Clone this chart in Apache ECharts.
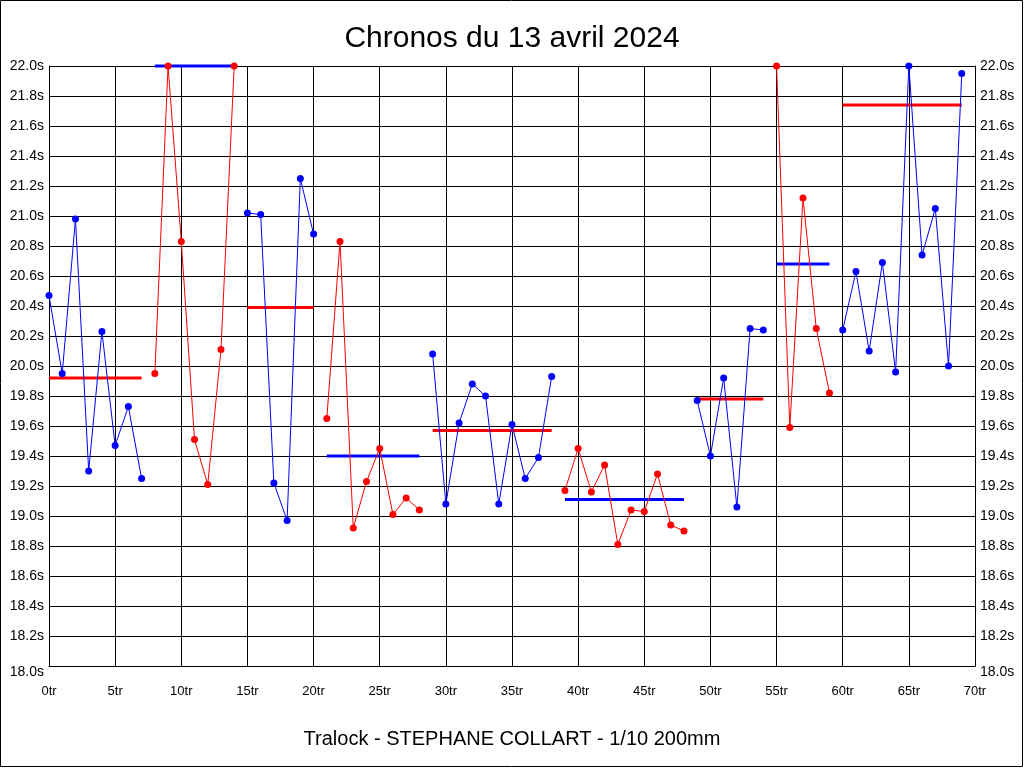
<!DOCTYPE html>
<html>
<head>
<meta charset="utf-8">
<script src="https://cdn.jsdelivr.net/npm/echarts@6/dist/echarts.min.js"></script>
<style>
html,body{margin:0;padding:0;background:#fff;}
#chart{width:1024px;height:768px;}
</style>
</head>
<body>
<div id="chart"></div>
<script>
// Lap index at which each run (segment) starts
const segStarts = [0, 8, 15, 21, 29, 39, 49, 55, 60];
// Lap times (s) for each run, as displayed
const seg1 = [20.47, 19.95, 20.98, 19.30, 20.23, 19.47, 19.73, 19.25];
const seg2 = [19.95, 22.00, 20.83, 19.51, 19.21, 20.11, 22.00];
const seg3 = [21.02, 21.01, 19.22, 18.97, 21.25, 20.88];
const seg4 = [19.65, 20.83, 18.92, 19.23, 19.45, 19.01, 19.12, 19.04];
const seg5 = [20.08, 19.08, 19.62, 19.88, 19.80, 19.08, 19.61, 19.25, 19.39, 19.93];
const seg6 = [19.17, 19.45, 19.16, 19.34, 18.81, 19.04, 19.03, 19.28, 18.94, 18.90];
const seg7 = [19.77, 19.40, 19.92, 19.06, 20.25, 20.24];
const seg8 = [22.00, 19.59, 21.12, 20.25, 19.82];
const seg9 = [20.24, 20.63, 20.10, 20.69, 19.96, 22.00, 20.74, 21.05, 20.00, 21.95];
// Mean time of each run (horizontal bars)
const segMeans = [19.92, 22.00, 20.39, 19.40, 19.57, 19.11, 19.78, 20.68, 21.74];

const titleText = 'Chronos du 13 avril 2024';
const footerText = 'Tralock - STEPHANE COLLART - 1/10 200mm';

const segments = [seg1, seg2, seg3, seg4, seg5, seg6, seg7, seg8, seg9];
const BLUE = '#0000FF', RED = '#FF0000';
const FONT = '"Liberation Sans", Arial, sans-serif';

const series = [];
segments.forEach((seg, i) => {
  const col = i % 2 === 0 ? BLUE : RED;
  const meanCol = i % 2 === 0 ? RED : BLUE;
  const start = segStarts[i];
  series.push({
    type: 'line',
    data: seg.map((v, k) => [start + k, v]),
    symbol: 'circle',
    symbolSize: 7,
    showSymbol: true,
    clip: false,
    lineStyle: {color: col, width: 1},
    itemStyle: {color: col},
    emphasis: {disabled: true},
    z: 3
  });
  series.push({
    type: 'line',
    data: [[start, segMeans[i]], [start + seg.length - 1, segMeans[i]]],
    symbol: 'none',
    clip: false,
    lineStyle: {color: meanCol, width: 3},
    emphasis: {disabled: true},
    z: 2
  });
});

const yLabel = {
  fontFamily: FONT, fontSize: 14, color: '#000', margin: 5,
  formatter: v => Math.abs(v - 18) < 1e-6 ? '{lo|18.0s}' : v.toFixed(1) + 's',
  rich: {lo: {fontFamily: FONT, fontSize: 14, color: '#000', padding: [12, 0, 0, 0]}}
};

const chart = echarts.init(document.getElementById('chart'), null, {renderer: 'canvas'});
chart.setOption({
  animation: false,
  backgroundColor: '#fff',
  title: [
    {text: titleText, left: 'center', top: 19,
     textStyle: {fontFamily: FONT, fontSize: 30, fontWeight: 'normal', color: '#000'}},
    {text: footerText, left: 'center', top: 724,
     textStyle: {fontFamily: FONT, fontSize: 20, fontWeight: 'normal', color: '#000'}}
  ],
  graphic: [{
    type: 'rect', silent: true,
    shape: {x: 0.5, y: 0.5, width: 1022, height: 766},
    style: {fill: 'none', stroke: '#000', lineWidth: 1}
  }],
  grid: {left: 49, right: 49, top: 66, bottom: 102, containLabel: false},
  xAxis: {
    type: 'value', min: 0, max: 70, interval: 5,
    axisLine: {show: true, lineStyle: {color: '#000', width: 1}},
    axisTick: {show: false},
    splitLine: {show: true, lineStyle: {color: '#000', width: 1}},
    axisLabel: {fontFamily: FONT, fontSize: 13, color: '#000', margin: 19,
      formatter: v => v + 'tr'}
  },
  yAxis: [
    {type: 'value', min: 18, max: 22, interval: 0.2, position: 'left',
     axisLine: {show: true, lineStyle: {color: '#000', width: 1}},
     axisTick: {show: false},
     splitLine: {show: true, lineStyle: {color: '#000', width: 1}},
     axisLabel: yLabel},
    {type: 'value', min: 18, max: 22, interval: 0.2, position: 'right',
     axisLine: {show: true, lineStyle: {color: '#000', width: 1}},
     axisTick: {show: false},
     splitLine: {show: false},
     axisLabel: yLabel}
  ],
  series: series
});
</script>
</body>
</html>
